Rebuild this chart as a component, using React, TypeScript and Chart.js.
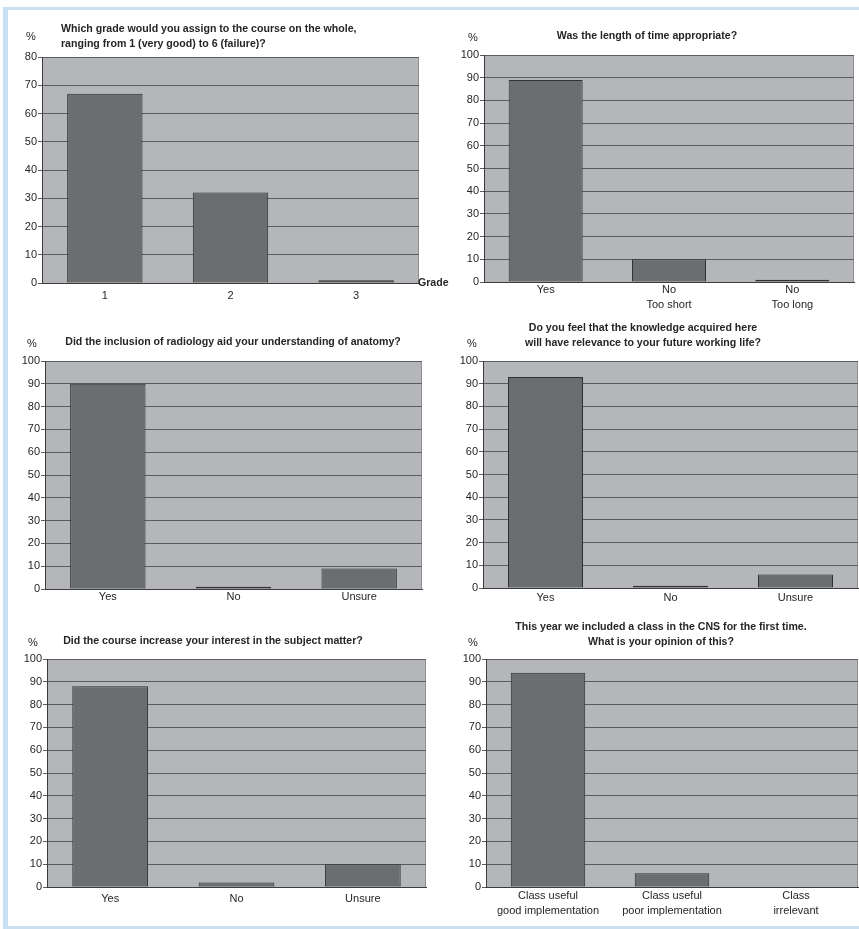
import React, { useEffect, useRef } from 'react';
import { Chart, registerables } from 'chart.js';

Chart.register(...registerables);

// ---------- data ----------
const gradeCategories = ['1', '2', '3'];
const gradeValues = [67, 32, 1];

const lengthCategories = ['Yes', ['No', 'Too short'], ['No', 'Too long']];
const lengthValues = [89, 10, 1];

const radiologyCategories = ['Yes', 'No', 'Unsure'];
const radiologyValues = [90, 1, 9];

const relevanceCategories = ['Yes', 'No', 'Unsure'];
const relevanceValues = [93, 1, 6];

const interestCategories = ['Yes', 'No', 'Unsure'];
const interestValues = [88, 2, 10];

const cnsCategories = [
  ['Class useful', 'good implementation'],
  ['Class useful', 'poor implementation'],
  ['Class', 'irrelevant'],
];
const cnsValues = [94, 6, 0];

const gradeTitle = ['Which grade would you assign to the course on the whole,', 'ranging from 1 (very good) to 6 (failure)?'];
const lengthTitle = ['Was the length of time appropriate?'];
const radiologyTitle = ['Did the inclusion of radiology aid your understanding of anatomy?'];
const relevanceTitle = ['Do you feel that the knowledge acquired here', 'will have relevance to your future working life?'];
const interestTitle = ['Did the course increase your interest in the subject matter?'];
const cnsTitle = ['This year we included a class in the CNS for the first time.', 'What is your opinion of this?'];

const gradeYMax = 80;
const percentYMax = 100;
const yStep = 10;

// ---------- style ----------
const FONT = "'Liberation Sans', Arial, Helvetica, sans-serif";
const PLOT_BG = '#b4b6b9';
const BAR_FILL = '#6b6e71';
const BAR_BORDER = '#2f3133';
const GRID = '#5a5c5f';
const AXIS = '#3a3c3e';
const TEXT = '#262626';

type TextItem = { text: string; x: number; y: number; align: CanvasTextAlign; bold?: boolean };

type Panel = {
  labels: any[];
  values: number[];
  yMax: number;
  box: [number, number, number, number]; // canvas x, y, w, h (page coords)
  plot: [number, number, number, number]; // plot left, top, right, bottom (page coords)
  labelPad: number;
  texts: TextItem[];
};

function titleItems(lines: string[], x: number, y: number, align: CanvasTextAlign): TextItem[] {
  return lines.map((t, i) => ({ text: t, x, y: y + i * 15, align, bold: true }));
}

const panels: Panel[] = [
  {
    labels: gradeCategories,
    values: gradeValues,
    yMax: gradeYMax,
    box: [10, 12, 445, 300],
    plot: [42, 57, 419, 283],
    labelPad: 5.5,
    texts: [
      ...titleItems(gradeTitle, 61, 29, 'left'),
      { text: '%', x: 31, y: 37, align: 'center' },
      { text: 'Grade', x: 418, y: 283, align: 'left', bold: true },
    ],
  },
  {
    labels: lengthCategories,
    values: lengthValues,
    yMax: percentYMax,
    box: [440, 12, 419, 308],
    plot: [484, 55, 854, 282],
    labelPad: 0.6,
    texts: [
      ...titleItems(lengthTitle, 647, 36, 'center'),
      { text: '%', x: 473, y: 38, align: 'center' },
    ],
  },
  {
    labels: radiologyCategories,
    values: radiologyValues,
    yMax: percentYMax,
    box: [10, 318, 420, 292],
    plot: [45, 361, 422, 589],
    labelPad: 0.6,
    texts: [
      ...titleItems(radiologyTitle, 233, 342, 'center'),
      { text: '%', x: 32, y: 344, align: 'center' },
    ],
  },
  {
    labels: relevanceCategories,
    values: relevanceValues,
    yMax: percentYMax,
    box: [440, 318, 419, 292],
    plot: [483, 361, 858, 588],
    labelPad: 2.6,
    texts: [
      ...titleItems(relevanceTitle, 643, 328, 'center'),
      { text: '%', x: 472, y: 344, align: 'center' },
    ],
  },
  {
    labels: interestCategories,
    values: interestValues,
    yMax: percentYMax,
    box: [10, 615, 420, 305],
    plot: [47, 659, 426, 887],
    labelPad: 4.0,
    texts: [
      ...titleItems(interestTitle, 213, 641, 'center'),
      { text: '%', x: 33, y: 643, align: 'center' },
    ],
  },
  {
    labels: cnsCategories,
    values: cnsValues,
    yMax: percentYMax,
    box: [440, 612, 419, 312],
    plot: [486, 659, 858, 887],
    labelPad: 1.6,
    texts: [
      ...titleItems(cnsTitle, 661, 627, 'center'),
      { text: '%', x: 473, y: 643, align: 'center' },
    ],
  },
];

const panelDecor = {
  id: 'panelDecor',
  beforeDraw(chart: any) {
    const { ctx, chartArea } = chart;
    ctx.save();
    ctx.fillStyle = PLOT_BG;
    ctx.fillRect(chartArea.left, chartArea.top, chartArea.right - chartArea.left, chartArea.bottom - chartArea.top);
    ctx.strokeStyle = '#8e9093';
    ctx.lineWidth = 1;
    ctx.beginPath();
    ctx.moveTo(chartArea.right - 0.5, chartArea.top);
    ctx.lineTo(chartArea.right - 0.5, chartArea.bottom);
    ctx.stroke();
    ctx.restore();
  },
  afterDraw(chart: any, _args: any, opts: any) {
    const ctx = chart.ctx;
    ctx.save();
    ctx.fillStyle = TEXT;
    ctx.textBaseline = 'middle';
    (opts.texts as TextItem[]).forEach((t) => {
      ctx.font = t.bold ? `bold 10.6px ${FONT}` : `11px ${FONT}`;
      ctx.textAlign = t.align;
      ctx.fillText(t.text, t.x - opts.ox, t.y - opts.oy);
    });
    ctx.restore();
  },
};

function PanelChart({ p }: { p: Panel }) {
  const ref = useRef<HTMLCanvasElement | null>(null);
  useEffect(() => {
    if (!ref.current) return;
    const [cx, cy, cw, ch] = p.box;
    const [pl, pt, pr, pb] = p.plot;
    const yWidth = pl - cx;
    const xHeight = cy + ch - pb;
    const chart = new Chart(ref.current, {
      type: 'bar',
      data: {
        labels: p.labels,
        datasets: [
          {
            data: p.values,
            backgroundColor: BAR_FILL,
            borderColor: BAR_BORDER,
            borderWidth: 1,
            borderSkipped: false,
            barPercentage: 0.6,
            categoryPercentage: 1,
          },
        ],
      },
      options: {
        animation: false,
        responsive: false,
        devicePixelRatio: 1,
        layout: {
          autoPadding: false,
          padding: { top: pt - cy, right: cx + cw - pr, left: 0, bottom: 0 },
        },
        plugins: {
          legend: { display: false },
          tooltip: { enabled: false },
          title: { display: false },
          panelDecor: { texts: p.texts, ox: cx, oy: cy },
        } as any,
        scales: {
          x: {
            grid: { display: false, drawTicks: false },
            border: { display: true, color: AXIS, width: 1 },
            ticks: {
              color: TEXT,
              padding: p.labelPad,
              maxRotation: 0,
              autoSkip: false,
              font: { family: FONT, size: 11, lineHeight: 1.36 },
            },
            afterFit: (s: any) => {
              s.height = xHeight;
              s.paddingLeft = 0;
              s.paddingRight = 0;
            },
          },
          y: {
            min: 0,
            max: p.yMax,
            grid: { color: GRID, lineWidth: 1, drawTicks: true, tickLength: 4, tickColor: GRID },
            border: { display: true, color: AXIS, width: 1 },
            ticks: {
              stepSize: yStep,
              color: TEXT,
              padding: 1,
              font: { family: FONT, size: 11 },
            },
            afterFit: (s: any) => {
              s.width = yWidth;
              s.paddingTop = 0;
              s.paddingBottom = 0;
            },
          },
        },
      },
      plugins: [panelDecor],
    });
    return () => chart.destroy();
  }, [p]);
  const [cx, cy, cw, ch] = p.box;
  return (
    <canvas
      ref={ref}
      width={cw}
      height={ch}
      style={{ position: 'absolute', left: cx, top: cy, width: cw, height: ch }}
    />
  );
}

export default function App() {
  return (
    <div
      style={{
        position: 'absolute',
        left: 0,
        top: 0,
        width: 859,
        height: 929,
        background: '#ffffff',
        overflow: 'hidden',
      }}
    >
      <div
        style={{
          position: 'absolute',
          left: 3,
          top: 7,
          width: 856,
          height: 922,
          boxSizing: 'border-box',
          borderLeft: '5px solid #c8e0f1',
          borderTop: '3px solid #c8e0f1',
          borderBottom: '3px solid #c8e0f1',
        }}
      />
      {panels.map((p, i) => (
        <PanelChart key={i} p={p} />
      ))}
    </div>
  );
}
